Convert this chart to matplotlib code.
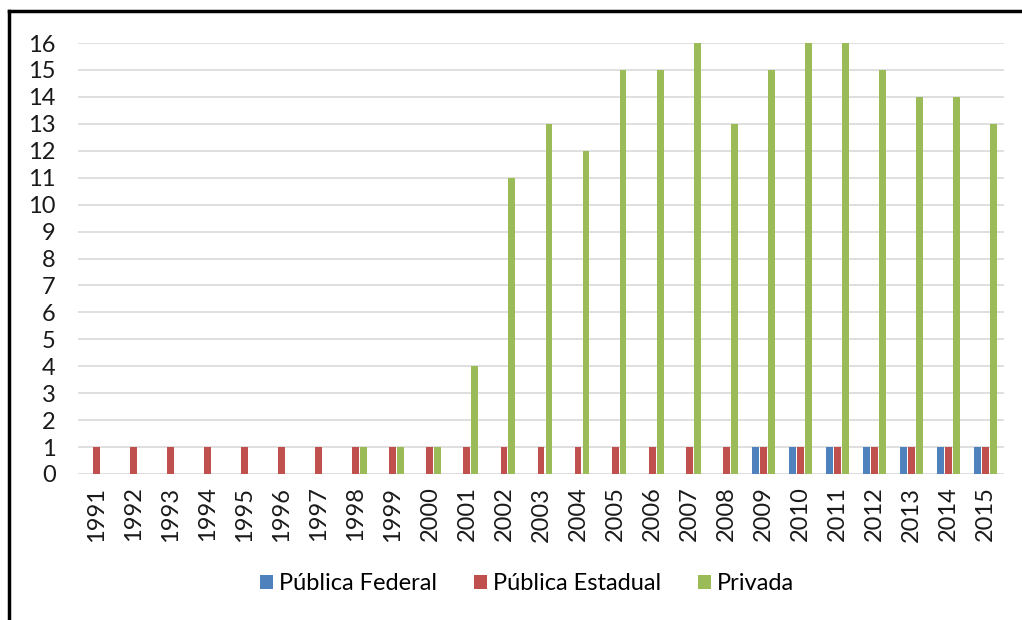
import matplotlib
matplotlib.use("Agg")
import matplotlib.pyplot as plt
import numpy as np
from matplotlib.lines import Line2D

years = [str(y) for y in range(1991, 2016)]
federal = [0,0,0,0,0,0,0,0,0,0,0,0,0,0,0,0,0,0,1,1,1,1,1,1,1]
estadual = [1]*25
privada = [0,0,0,0,0,0,0,1,1,1,4,11,13,12,15,15,16,13,15,16,16,15,14,14,13]
series_names = ["Pública Federal", "Pública Estadual", "Privada"]
colors = ["#4F81BD", "#C0504D", "#9BBB59"]

plt.rcParams['font.family'] = ['Lato', 'DejaVu Sans']

fig = plt.figure(figsize=(10.22, 6.2), dpi=100)
ax = fig.add_axes([78/1022, 1-474/620, (1004-78)/1022, (474-43)/620])

x = np.arange(len(years))
w = 0.185
off = 0.215
for vals, c, name, o in zip([federal, estadual, privada], colors, series_names, [-off, 0, off]):
    ax.bar(x + o, vals, width=w, color=c, label=name, zorder=3, linewidth=0)

ax.set_xlim(-0.5, len(years) - 0.5)
ax.set_ylim(0, 16)
ax.set_yticks(range(0, 17))
ax.set_xticks(x)
ax.set_xticklabels(years, rotation=90)
ax.tick_params(axis='both', length=0, labelsize=17, colors='#1a1a1a')
ax.tick_params(axis='y', pad=16)
ax.tick_params(axis='x', pad=9)
ax.grid(axis='y', color='#D9D9D9', linewidth=1.2, zorder=0)
for s in ax.spines.values():
    s.set_visible(False)

leg = fig.legend(loc='center', bbox_to_anchor=(527/1022, 1-584/620), ncol=3, frameon=False,
                 fontsize=17, handlelength=0.55, handleheight=0.55, handletextpad=0.25,
                 columnspacing=1.55)

fig.add_artist(Line2D([9/1022, 1.0], [1-11/620, 1-11/620], color='black', linewidth=2.5, transform=fig.transFigure))
fig.add_artist(Line2D([9/1022, 9/1022], [0, 1-11/620], color='black', linewidth=2.5, transform=fig.transFigure))

fig.savefig("out.png", dpi=100)
